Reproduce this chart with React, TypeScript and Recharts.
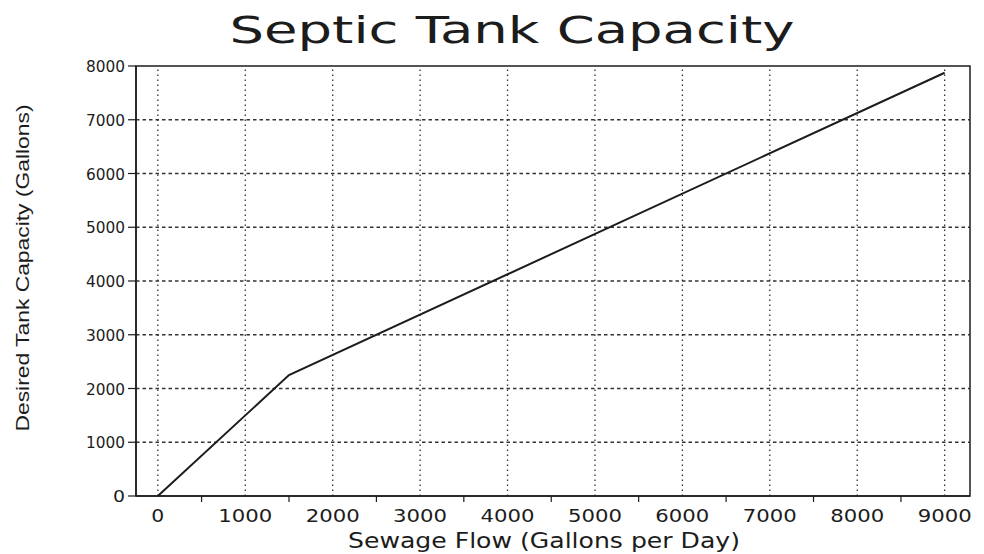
import React from "react";
import { LineChart, Line, XAxis, YAxis, ReferenceLine, ReferenceArea } from "recharts";

const flow = [0, 1500, 9000];
const capacity = [0, 2250, 7875];
const xTicks = [0, 500, 1000, 1500, 2000, 2500, 3000, 3500, 4000, 4500, 5000, 5500, 6000, 6500, 7000, 7500, 8000, 8500, 9000];
const xGrid = [0, 1000, 2000, 3000, 4000, 5000, 6000, 7000, 8000, 9000];
const yTicks = [0, 1000, 2000, 3000, 4000, 5000, 6000, 7000, 8000];
const yGrid = [1000, 2000, 3000, 4000, 5000, 6000, 7000];
const title = "Septic Tank Capacity";
const xTitle = "Sewage Flow (Gallons per Day)";
const yTitle = "Desired Tank Capacity (Gallons)";

const data = flow.map((f, i) => ({ flow: f, cap: capacity[i] }));

const INK = "#1c1c1c";

const XTick = (props: any) => {
  const { x, y, payload } = props;
  const v = payload.value as number;
  if (v % 1000 !== 0) {
    return <line x1={x} x2={x} y1={y} y2={y + 6} stroke={INK} strokeWidth={1.2} />;
  }
  const s = String(v);
  return (
    <text
      x={x}
      y={y + 26}
      textAnchor="middle"
      fontFamily="DejaVu Sans"
      fontSize={17}
      fill={INK}
      textLength={s.length > 1 ? 54 : 13}
      lengthAdjust="spacingAndGlyphs"
    >
      {s}
    </text>
  );
};

const YTick = (props: any) => {
  const { x, y, payload } = props;
  const s = String(payload.value);
  return (
    <g>
      <line x1={x - 8} x2={x} y1={y} y2={y} stroke={INK} strokeWidth={1.2} />
      <text
        x={x - 11}
        y={y + 6}
        textAnchor="end"
        fontFamily="DejaVu Sans"
        fontSize={16}
        fill={INK}
        textLength={s.length > 1 ? 39 : 12}
        lengthAdjust="spacingAndGlyphs"
      >
        {s}
      </text>
    </g>
  );
};

export default function App() {
  return (
    <div style={{ position: "relative", width: 976, height: 546, background: "#fff" }}>
      <LineChart
        width={976}
        height={546}
        data={data}
        margin={{ top: 58, right: 14, left: 58, bottom: 0 }}
      >
        <XAxis
          type="number"
          dataKey="flow"
          domain={[-250, 9290]}
          allowDataOverflow
          ticks={xTicks}
          interval={0}
          tickSize={0}
          tickMargin={0}
          tickLine={false}
          axisLine={{ stroke: INK, strokeWidth: 1.5 }}
          tick={<XTick />}
          height={58}
        />
        <YAxis
          type="number"
          domain={[0, 8000]}
          allowDataOverflow
          ticks={yTicks}
          interval={0}
          tickSize={0}
          tickMargin={0}
          tickLine={false}
          axisLine={{ stroke: INK, strokeWidth: 1.5 }}
          tick={<YTick />}
          width={70}
        />
        {xGrid.map((v) => (
          <ReferenceLine key={"x" + v} x={v} stroke="#333" strokeWidth={1.3} strokeDasharray="1.5 3.5" />
        ))}
        {yGrid.map((v) => (
          <ReferenceLine key={"y" + v} y={v} stroke="#333" strokeWidth={1.3} strokeDasharray="3.5 3" />
        ))}
        <ReferenceArea x1={-250} x2={9290} y1={0} y2={8000} fill="none" stroke={INK} strokeWidth={1.5} />
        <Line
          type="linear"
          dataKey="cap"
          stroke={INK}
          strokeWidth={2}
          dot={false}
          isAnimationActive={false}
        />
      </LineChart>
      <svg
        width={976}
        height={546}
        style={{ position: "absolute", left: 0, top: 0, pointerEvents: "none" }}
      >
        <text
          x={504}
          y={35}
          textAnchor="middle"
          fontFamily="DejaVu Sans"
          fontSize={38}
          fill={INK}
          textLength={565}
          lengthAdjust="spacingAndGlyphs"
        >
          {title}
        </text>
        <text
          x={536}
          y={540}
          textAnchor="middle"
          fontFamily="DejaVu Sans"
          fontSize={21}
          fill={INK}
          textLength={392}
          lengthAdjust="spacingAndGlyphs"
        >
          {xTitle}
        </text>
        <text
          transform="translate(21,260) rotate(-90)"
          x={0}
          y={0}
          textAnchor="middle"
          fontFamily="Liberation Sans"
          fontSize={19}
          fill={INK}
          textLength={327}
          lengthAdjust="spacingAndGlyphs"
        >
          {yTitle}
        </text>
      </svg>
    </div>
  );
}
